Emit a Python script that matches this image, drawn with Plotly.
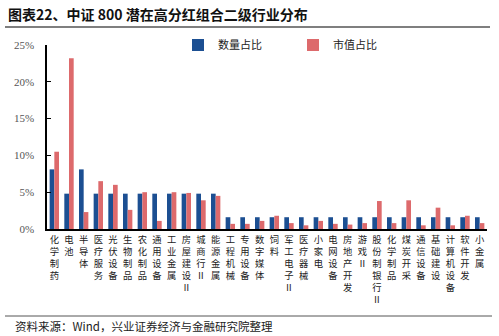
import plotly.graph_objects as go

categories = ["化学制药", "电池", "半导体", "医疗服务", "光伏设备", "生物制品", "农化制品", "通用设备",
              "工业金属", "房屋建设Ⅱ", "城商行Ⅱ", "能源金属", "工程机械", "专用设备", "数字媒体", "饲料",
              "军工电子Ⅱ", "医疗器械", "小家电", "电网设备", "房地产开发", "游戏Ⅱ", "股份制银行Ⅱ",
              "化学制品", "煤炭开采", "通信设备", "基础建设", "计算机设备", "软件开发", "小金属"]
count_share = [8.1, 4.8, 8.1, 4.8, 4.8, 4.8, 4.8, 4.8, 4.8, 4.8, 4.8, 4.8, 1.6, 1.6, 1.6, 1.6,
               1.6, 1.6, 1.6, 1.6, 1.6, 1.6, 1.6, 1.6, 1.6, 1.6, 1.6, 1.6, 1.6, 1.6]
value_share = [10.5, 23.2, 2.3, 6.5, 6.0, 2.6, 5.0, 1.1, 5.0, 4.9, 3.9, 4.5, 0.7, 0.7, 1.1, 1.8,
               0.8, 0.5, 1.1, 0.7, 0.6, 0.8, 3.8, 0.8, 3.9, 0.5, 2.9, 0.5, 1.8, 0.8]
y_ticks = [0, 5, 10, 15, 20, 25]
y_tick_labels = ["0%", "5%", "10%", "15%", "20%", "25%"]

tick_text = ["<br>".join(list(c)) for c in categories]

fig = go.Figure()
fig.add_trace(go.Bar(x=categories, y=count_share, name="数量占比", marker_color="#1C4F92",
                     marker_line_width=0))
fig.add_trace(go.Bar(x=categories, y=value_share, name="市值占比", marker_color="#DD6A6C",
                     marker_line_width=0))

# pixel helpers: plot area x 47..487, y 45..229
def px_x(p):
    return (p - 47) / 440.0

def px_y(p):
    return (229 - p) / 184.0

fig.update_layout(
    width=499, height=336,
    margin=dict(l=47, r=12, t=45, b=107),
    paper_bgcolor="white", plot_bgcolor="white",
    barmode="group", bargap=0.36, bargroupgap=0.0,
    font=dict(family="Noto Sans CJK SC", size=10, color="#222"),
    showlegend=True,
    legend=dict(orientation="h", x=px_x(178), y=px_y(45), xanchor="left", yanchor="middle",
                font=dict(size=11, color="#222"), itemwidth=30, bgcolor="rgba(0,0,0,0)",
                tracegroupgap=0, entrywidth=70),
    xaxis=dict(tickmode="array", tickvals=categories, ticktext=tick_text, tickangle=0,
               showline=True, linecolor="black", linewidth=1.5, ticks="", showgrid=False,
               tickfont=dict(family="Noto Sans CJK SC", size=9.3, color="#222"),
               ticklabelstandoff=1),
    yaxis=dict(range=[0, 25], tickmode="array", tickvals=y_ticks, ticktext=y_tick_labels,
               showline=True, linecolor="black", linewidth=1.5, ticks="inside", ticklen=4,
               tickcolor="black", showgrid=False, zeroline=False,
               tickfont=dict(family="Liberation Serif", size=11, color="#555"),
               ticklabelstandoff=9),
    shapes=[
        dict(type="line", xref="paper", yref="paper", x0=px_x(5), x1=px_x(490),
             y0=px_y(27), y1=px_y(27), line=dict(color="#7f7f7f", width=2)),
        dict(type="line", xref="paper", yref="paper", x0=px_x(5), x1=px_x(492),
             y0=px_y(316), y1=px_y(316), line=dict(color="#555", width=1)),
    ],
    annotations=[
        dict(text="<b>图表22、中证 800 潜在高分红组合二级行业分布</b>", xref="paper", yref="paper",
             x=px_x(6), y=px_y(14), xanchor="left", yanchor="middle", showarrow=False,
             font=dict(family="Noto Sans CJK SC", size=14, color="#111")),
        dict(text="资料来源：Wind，兴业证券经济与金融研究院整理", xref="paper", yref="paper",
             x=px_x(13), y=px_y(326), xanchor="left", yanchor="middle", showarrow=False,
             font=dict(family="Noto Sans CJK SC", size=11.5, color="#222")),
    ],
)

fig.write_html("out.html")
